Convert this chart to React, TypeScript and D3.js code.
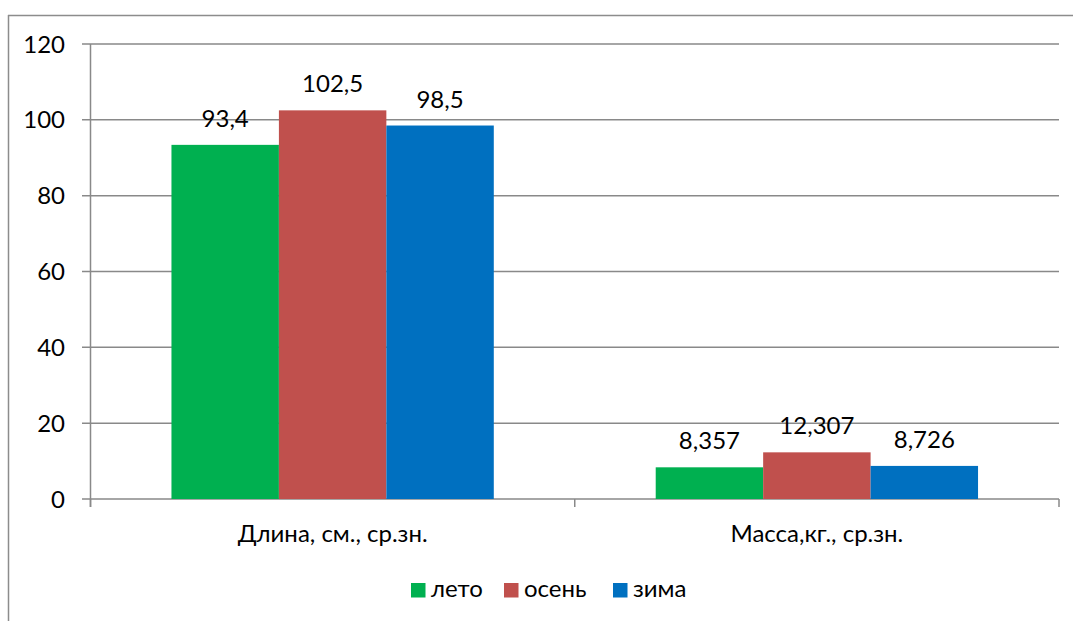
import React from "react";
import * as d3 from "d3";

const categories = ["Длина, см., ср.зн.", "Масса,кг., ср.зн."];
const seriesNames = ["лето", "осень", "зима"];
const seriesColors = ["#00B050", "#C0504D", "#0070C0"];
const leto = [93.4, 8.357];
const osen = [102.5, 12.307];
const zima = [98.5, 8.726];
const valueLabels = [["93,4", "102,5", "98,5"], ["8,357", "12,307", "8,726"]];
const yTicks = [0, 20, 40, 60, 80, 100, 120];

const W = 1073, H = 621;
const FONT = "Lato, 'Open Sans', sans-serif";
const FS = 24;

export default function App() {
  const series = [leto, osen, zima];
  const left = 90.5, right = 1059, top = 44, bottom = 499;
  const x0 = d3.scaleBand().domain(categories).range([left, right]).paddingInner(0).paddingOuter(0);
  const x1 = d3.scaleBand().domain(seriesNames).range([0, x0.bandwidth()]).paddingOuter(0.7535).paddingInner(0);
  const y = d3.scaleLinear().domain([0, 120]).range([bottom, top]);
  const grid = "#898989";

  return (
    <svg width={W} height={H} style={{ position: "absolute", left: 0, top: 0, display: "block" }}>
      <rect x={0} y={0} width={W} height={H} fill="#fff" />
      {/* chart frame */}
      <line x1={8.5} y1={15} x2={8.5} y2={H} stroke="#8c8c8c" strokeWidth={1.5} />
      <line x1={8} y1={15.5} x2={W} y2={15.5} stroke="#8c8c8c" strokeWidth={1.5} />
      {/* gridlines */}
      {yTicks.map((t) => (
        <g key={t}>
          <line x1={82} x2={right} y1={y(t)} y2={y(t)} stroke={grid} strokeWidth={1.5} />
          <text x={65} y={y(t) + 8.5} textAnchor="end" fontFamily={FONT} fontSize={FS} fill="#000">{t}</text>
        </g>
      ))}
      {/* y axis */}
      <line x1={left} x2={left} y1={top} y2={bottom + 8} stroke={grid} strokeWidth={1.5} />
      {/* category ticks */}
      {[left, left + x0.bandwidth(), right].map((v, i) => (
        <line key={i} x1={v} x2={v} y1={bottom} y2={bottom + 8} stroke={grid} strokeWidth={1.5} />
      ))}
      {/* bars */}
      {categories.map((c, ci) => (
        <g key={c} transform={`translate(${x0(c)},0)`}>
          {seriesNames.map((s, si) => {
            const v = series[si][ci];
            const bx = x1(s)!;
            return (
              <g key={s}>
                <rect x={bx} y={y(v)} width={x1.bandwidth()} height={bottom - y(v)} fill={seriesColors[si]} />
                <text x={bx + x1.bandwidth() / 2} y={y(v) - 18} textAnchor="middle" fontFamily={FONT} fontSize={FS} fill="#000">
                  {valueLabels[ci][si]}
                </text>
              </g>
            );
          })}
          <text x={x0.bandwidth() / 2} y={541.5} textAnchor="middle" fontFamily={FONT} fontSize={FS} fill="#000">{c}</text>
        </g>
      ))}
      {/* legend */}
      {(() => {
        const xs = [411, 504, 613];
        return seriesNames.map((s, i) => (
          <g key={s}>
            <rect x={xs[i]} y={583} width={14.5} height={14.5} fill={seriesColors[i]} />
            <text x={xs[i] + 20} y={596.5} fontFamily={FONT} fontSize={FS} fill="#000">{s}</text>
          </g>
        ));
      })()}
    </svg>
  );
}
